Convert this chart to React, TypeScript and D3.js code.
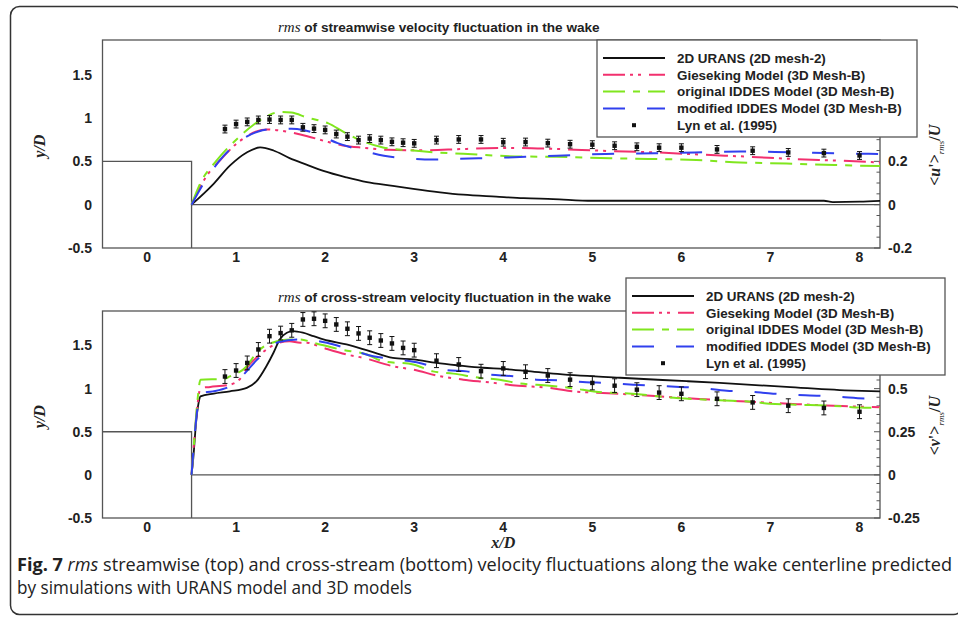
import React from 'react';
import * as d3 from 'd3';

type P = [number, number];

// ---------- data ----------
const xTicks = [0, 1, 2, 3, 4, 5, 6, 7, 8];
const leftTicks = [-0.5, 0, 0.5, 1, 1.5];
const uTicks = [-0.2, 0, 0.2];
const vTicks = [-0.25, 0, 0.25, 0.5];
const legendLabels = [
  '2D URANS (2D mesh-2)',
  'Gieseking Model (3D Mesh-B)',
  'original IDDES Model (3D Mesh-B)',
  'modified IDDES Model (3D Mesh-B)',
  'Lyn et al. (1995)',
];

// streamwise rms  <u'>/U
const uUrans: P[] = [[0.5,0],[0.745,0.095],[0.93,0.18],[1.12,0.241],[1.27,0.264],[1.42,0.25],[1.6,0.215],[1.79,0.185],[1.98,0.156],[2.24,0.126],[2.47,0.104],[2.76,0.087],[2.99,0.073],[3.29,0.057],[3.55,0.046],[3.92,0.037],[4.23,0.03],[4.56,0.026],[5.0,0.018],[6.0,0.018],[7.6,0.018],[7.7,0.012],[8.0,0.014],[8.23,0.018]];
const uGieseking: P[] = [[0.5,0],[0.6,0.085],[0.7,0.15],[0.82,0.205],[1.0,0.28],[1.1,0.31],[1.22,0.337],[1.35,0.347],[1.5,0.342],[1.62,0.333],[1.8,0.316],[2.0,0.293],[2.2,0.273],[2.45,0.262],[2.7,0.253],[3.1,0.251],[3.55,0.257],[4.1,0.262],[4.6,0.257],[5.1,0.249],[5.72,0.241],[6.22,0.231],[6.77,0.221],[7.25,0.211],[7.78,0.203],[8.23,0.195]];
const uOriginal: P[] = [[0.5,0],[0.6,0.1],[0.78,0.203],[1.03,0.311],[1.2,0.37],[1.33,0.405],[1.5,0.428],[1.62,0.425],[1.8,0.402],[2.03,0.376],[2.22,0.333],[2.42,0.293],[2.65,0.264],[2.95,0.251],[3.25,0.241],[3.55,0.235],[3.92,0.226],[4.26,0.222],[4.6,0.221],[5.2,0.214],[5.63,0.211],[6.17,0.206],[6.66,0.195],[7.18,0.19],[7.72,0.183],[8.23,0.178]];
const uModified: P[] = [[0.5,0],[0.63,0.095],[0.86,0.225],[1.0,0.28],[1.1,0.31],[1.25,0.338],[1.45,0.35],[1.62,0.35],[1.75,0.345],[1.88,0.33],[2.14,0.284],[2.43,0.249],[2.66,0.226],[2.95,0.213],[3.2,0.208],[3.5,0.212],[4.0,0.217],[4.25,0.221],[4.6,0.226],[5.15,0.234],[5.7,0.237],[6.15,0.241],[6.66,0.245],[7.2,0.242],[7.75,0.237],[8.23,0.234]];

// cross-stream rms  <v'>/U
const vUrans: P[] = [[0.5,0],[0.52,0.1],[0.55,0.3],[0.58,0.42],[0.6,0.455],[0.75,0.471],[0.93,0.484],[1.12,0.504],[1.23,0.543],[1.34,0.63],[1.42,0.708],[1.49,0.785],[1.57,0.824],[1.64,0.833],[1.75,0.824],[1.87,0.804],[1.98,0.785],[2.24,0.756],[2.5,0.717],[2.76,0.678],[2.99,0.669],[3.25,0.649],[3.51,0.634],[3.77,0.621],[4.0,0.614],[4.25,0.603],[4.56,0.587],[5.31,0.563],[6.06,0.543],[6.43,0.533],[7.18,0.51],[7.93,0.488],[8.23,0.484]];
const vGieseking: P[] = [[0.5,0],[0.53,0.2],[0.57,0.42],[0.6,0.504],[0.71,0.51],[0.93,0.523],[1.05,0.56],[1.12,0.62],[1.27,0.698],[1.45,0.76],[1.6,0.775],[1.72,0.766],[1.79,0.766],[1.98,0.736],[2.24,0.698],[2.43,0.678],[2.76,0.63],[2.99,0.61],[3.29,0.572],[3.55,0.552],[3.85,0.536],[4.1,0.52],[4.5,0.505],[4.75,0.486],[5.05,0.476],[5.3,0.47],[5.7,0.457],[6.2,0.44],[6.8,0.423],[7.3,0.41],[7.8,0.399],[8.23,0.392]];
const vOriginal: P[] = [[0.5,0],[0.53,0.2],[0.57,0.45],[0.6,0.552],[0.86,0.556],[0.93,0.571],[1.12,0.63],[1.23,0.708],[1.46,0.775],[1.6,0.785],[1.72,0.785],[1.87,0.766],[2.17,0.727],[2.47,0.698],[2.65,0.659],[2.99,0.64],[3.21,0.6],[3.44,0.587],[3.74,0.562],[3.96,0.552],[4.15,0.533],[4.52,0.517],[4.75,0.504],[5.12,0.478],[5.31,0.475],[5.68,0.459],[5.79,0.452],[6.28,0.436],[6.43,0.432],[6.8,0.423],[6.99,0.413],[7.29,0.407],[7.44,0.405],[7.81,0.397],[8.0,0.39],[8.23,0.388]];
const vModified: P[] = [[0.5,0],[0.53,0.2],[0.57,0.4],[0.6,0.475],[0.74,0.484],[0.97,0.525],[1.1,0.59],[1.23,0.665],[1.48,0.77],[1.75,0.785],[2.02,0.766],[2.28,0.727],[2.54,0.688],[2.8,0.669],[3.06,0.649],[3.33,0.61],[3.59,0.6],[3.85,0.581],[4.11,0.572],[4.37,0.552],[4.64,0.548],[4.93,0.537],[5.16,0.533],[5.46,0.523],[5.68,0.517],[5.98,0.51],[6.21,0.504],[6.51,0.488],[6.73,0.484],[7.03,0.471],[7.25,0.465],[7.55,0.459],[7.78,0.452],[8.08,0.443],[8.23,0.446]];

// Lyn et al. (1995) measurements
const lynX = [0.875,1.0,1.125,1.25,1.375,1.5,1.625,1.75,1.875,2.0,2.125,2.25,2.375,2.5,2.625,2.75,2.875,3.0,3.25,3.5,3.75,4.0,4.25,4.5,4.75,5.0,5.25,5.5,5.75,6.0,6.4,6.8,7.2,7.6,8.0];
const lynU = [0.349,0.372,0.382,0.391,0.393,0.391,0.391,0.357,0.351,0.345,0.326,0.314,0.298,0.305,0.298,0.29,0.286,0.283,0.298,0.301,0.301,0.288,0.289,0.284,0.279,0.277,0.272,0.267,0.263,0.263,0.255,0.249,0.241,0.238,0.227];
const lynV = [0.57,0.605,0.649,0.727,0.804,0.822,0.838,0.901,0.905,0.893,0.872,0.847,0.82,0.795,0.779,0.762,0.736,0.723,0.662,0.64,0.601,0.617,0.598,0.576,0.552,0.533,0.517,0.494,0.477,0.47,0.441,0.42,0.401,0.388,0.366];
const lynUErr = 0.018;
const lynVErr = 0.04;

// ---------- styling ----------
const PINK = '#f2306e';
const GREEN = '#80e61e';
const BLUE = '#3040ee';
const styles = [
  { color: '#111', dash: undefined as string | undefined, width: 1.8 },
  { color: PINK, dash: '22 5 3 5 3 8', width: 2 },
  { color: GREEN, dash: '22 8 7 8', width: 2 },
  { color: BLUE, dash: '22 22', width: 2 },
];

const SANS = '"Liberation Sans", Arial, sans-serif';
const SERIF = '"Liberation Serif", "Times New Roman", serif';

const X0 = 102.5;
const X1 = 880;
const xScale = d3.scaleLinear().domain([-0.5, 8.23]).range([X0, X1]);

interface PanelProps {
  top: number;
  bottom: number;
  title: string;
  titleX: number;
  titleY: number;
  series: P[][];
  lynVals: number[];
  lynErr: number;
  rDomain: [number, number];
  rTicks: number[];
  rMinor: number;
  rMajor: number;
  rVar: string;
  legend: { x: number; y: number; w: number; h: number };
  xLabelY: number;
}

function Panel(p: PanelProps) {
  const yL = d3.scaleLinear().domain([-0.5, 1.9]).range([p.bottom, p.top]);
  const yR = d3.scaleLinear().domain(p.rDomain).range([p.bottom, p.top]);
  const line = d3
    .line<P>()
    .x((d) => xScale(d[0]))
    .y((d) => yR(d[1]))
    .curve(d3.curveMonotoneX);
  const minor = d3.range(
    Math.ceil(p.rDomain[0] / p.rMinor - 1e-6),
    Math.floor(p.rDomain[1] / p.rMinor + 1e-6) + 1
  ).map((k) => k * p.rMinor);
  const frame = '#555';
  const clipId = 'clip' + p.top;
  const L = p.legend;
  return (
    <g>
      <defs>
        <clipPath id={clipId}>
          <rect x={X0} y={p.top} width={X1 - X0} height={p.bottom - p.top} />
        </clipPath>
      </defs>
      {/* title */}
      <text x={p.titleX} y={p.titleY} fontFamily={SANS} fontWeight="bold" fontSize={13.6} fill="#222">
        <tspan fontFamily={SERIF} fontStyle="italic" fontWeight="normal" fontSize={15}>rms</tspan>
        {' ' + p.title}
      </text>
      {/* frame */}
      <rect x={X0} y={p.top} width={X1 - X0} height={p.bottom - p.top} fill="none" stroke={frame} strokeWidth={1.3} />
      {/* cylinder outline and wake centreline */}
      <polyline
        points={`${X0},${yL(0.5)} ${xScale(0.5)},${yL(0.5)} ${xScale(0.5)},${p.bottom}`}
        fill="none"
        stroke={frame}
        strokeWidth={1.3}
      />
      <line x1={xScale(0.5)} x2={X1} y1={yL(0)} y2={yL(0)} stroke={frame} strokeWidth={1.3} />
      {/* right-axis ticks */}
      {minor.map((t, i) => {
        const major = Math.abs(t / p.rMajor - Math.round(t / p.rMajor)) < 1e-6;
        return (
          <line key={i} x1={X1} x2={X1 - (major ? 6 : 3.5)} y1={yR(t)} y2={yR(t)} stroke={frame} strokeWidth={1} />
        );
      })}
      {/* left tick labels */}
      {leftTicks.map((t) => (
        <text key={t} x={92} y={yL(t)} dy="0.35em" textAnchor="end" fontFamily={SANS} fontWeight="bold" fontSize={14} fill="#222">
          {t}
        </text>
      ))}
      {/* right tick labels */}
      {p.rTicks.map((t) => (
        <text key={t} x={888} y={yR(t)} dy="0.35em" textAnchor="start" fontFamily={SANS} fontWeight="bold" fontSize={14} fill="#222">
          {t}
        </text>
      ))}
      {/* x tick labels */}
      {xTicks.map((t) => (
        <text key={t} x={xScale(t)} y={p.xLabelY} dy="0.35em" textAnchor="middle" fontFamily={SANS} fontWeight="bold" fontSize={14} fill="#222">
          {t}
        </text>
      ))}
      {/* axis titles */}
      <text
        transform={`translate(45,${(yL(0.25) + yL(1.1)) / 2}) rotate(-90)`}
        textAnchor="middle"
        fontFamily={SERIF}
        fontStyle="italic"
        fontWeight="bold"
        fontSize={16}
        fill="#222"
      >
        y/D
      </text>
      <text
        transform={`translate(940,${yR(p.rDomain[1] * 0.3)}) rotate(-90)`}
        textAnchor="middle"
        fontFamily={SERIF}
        fontWeight="bold"
        fontSize={16}
        fill="#222"
      >
        {'<'}
        <tspan fontStyle="italic">{p.rVar}</tspan>
        {"'>"}
        <tspan fontSize={9} fontStyle="italic" fontWeight="normal" dy={4}>rms</tspan>
        <tspan dy={-4}>/</tspan>
        <tspan fontStyle="italic">U</tspan>
      </text>
      {/* curves */}
      <g clipPath={`url(#${clipId})`}>
        {p.series.map((s, i) => (
          <path
            key={i}
            d={line(s) || ''}
            fill="none"
            stroke={styles[i].color}
            strokeWidth={styles[i].width}
            strokeDasharray={styles[i].dash}
          />
        ))}
        {/* measurements with error bars */}
        {lynX.map((x, i) => {
          const cx = xScale(x);
          const v = p.lynVals[i];
          const y0 = yR(v - p.lynErr);
          const y1 = yR(v + p.lynErr);
          return (
            <g key={i} stroke="#111" strokeWidth={1}>
              <line x1={cx} x2={cx} y1={y0} y2={y1} />
              <line x1={cx - 2.5} x2={cx + 2.5} y1={y0} y2={y0} />
              <line x1={cx - 2.5} x2={cx + 2.5} y1={y1} y2={y1} />
              <rect x={cx - 2.2} y={yR(v) - 2.2} width={4.4} height={4.4} fill="#111" stroke="none" />
            </g>
          );
        })}
      </g>
      {/* legend */}
      <rect x={L.x} y={L.y} width={L.w} height={L.h} fill="#fff" stroke={frame} strokeWidth={1.3} />
      {legendLabels.map((lab, i) => {
        const ly = L.y + 18 + i * 16.8;
        const sx0 = L.x + 6;
        const sx1 = L.x + 68;
        return (
          <g key={lab}>
            {i < 4 ? (
              <line
                x1={sx0}
                x2={sx1}
                y1={ly}
                y2={ly}
                stroke={styles[i].color}
                strokeWidth={styles[i].width}
                strokeDasharray={styles[i].dash}
              />
            ) : (
              <rect x={(sx0 + sx1) / 2 - 2} y={ly - 2} width={4} height={4} fill="#111" />
            )}
            <text x={L.x + 80} y={ly} dy="0.36em" fontFamily={SANS} fontWeight="bold" fontSize={13.4} fill="#222">
              {lab}
            </text>
          </g>
        );
      })}
    </g>
  );
}

export default function App() {
  return (
    <svg width={958} height={619} style={{ position: 'absolute', left: 0, top: 0, background: '#fff' }}>
      <rect x={10.5} y={6.5} width={952} height={608} rx={9} fill="#fff" stroke="#333" strokeWidth={1.5} />
      <Panel
        top={40}
        bottom={248}
        title="of streamwise velocity fluctuation in the wake"
        titleX={278}
        titleY={32}
        series={[uUrans, uGieseking, uOriginal, uModified]}
        lynVals={lynU}
        lynErr={lynUErr}
        rDomain={[-0.2, 0.76]}
        rTicks={uTicks}
        rMinor={0.05}
        rMajor={0.2}
        rVar="u"
        legend={{ x: 597, y: 40, w: 320, h: 97 }}
        xLabelY={257}
      />
      <Panel
        top={311}
        bottom={518}
        title="of cross-stream velocity fluctuation in the wake"
        titleX={278}
        titleY={302}
        series={[vUrans, vGieseking, vOriginal, vModified]}
        lynVals={lynV}
        lynErr={lynVErr}
        rDomain={[-0.25, 0.95]}
        rTicks={vTicks}
        rMinor={0.05}
        rMajor={0.25}
        rVar="v"
        legend={{ x: 626, y: 278, w: 319, h: 97 }}
        xLabelY={527}
      />
      <text x={xScale(4)} y={542} dy="0.35em" textAnchor="middle" fontFamily={SERIF} fontStyle="italic" fontWeight="bold" fontSize={16} fill="#222">
        x/D
      </text>
      {/* caption */}
      <text x={17} y={571} fontFamily='"Open Sans", "Noto Sans", sans-serif' fontSize={17.5} fill="#222" textLength={935} lengthAdjust="spacingAndGlyphs">
        <tspan fontWeight="bold">Fig. 7</tspan>
        <tspan fontStyle="italic"> rms</tspan>
        {' streamwise (top) and cross-stream (bottom) velocity fluctuations along the wake centerline predicted'}
      </text>
      <text x={17} y={594} fontFamily='"Open Sans", "Noto Sans", sans-serif' fontSize={17.5} fill="#222" textLength={395} lengthAdjust="spacingAndGlyphs">
        by simulations with URANS model and 3D models
      </text>
    </svg>
  );
}
